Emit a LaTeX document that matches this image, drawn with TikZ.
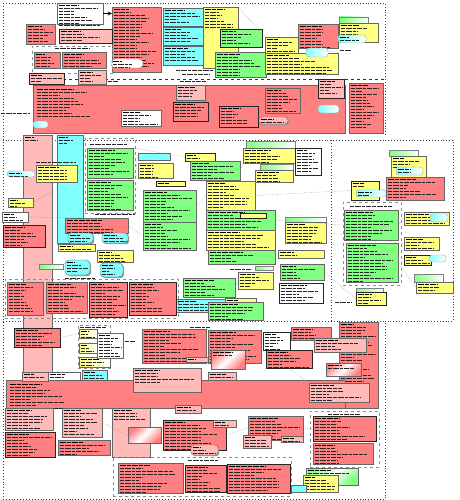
\documentclass[tikz,border=0pt]{standalone}
\usepackage{tikz}
\usetikzlibrary{arrows,shapes,positioning,shadows,fit}
\definecolor{dgred}{RGB}{255,128,128}
\definecolor{dgpink}{RGB}{255,186,186}
\definecolor{dgcyan}{RGB}{128,255,255}
\definecolor{dgyellow}{RGB}{255,255,128}
\definecolor{dggreen}{RGB}{128,255,128}
\newdimen\dgx
\newdimen\dgw
\tikzstyle{box} = [rectangle, draw=black!60, line width=0.4pt, inner sep=0pt, drop shadow={shadow xshift=1.2pt,shadow yshift=-1.2pt,fill=black!40,opacity=1}]
\tikzstyle{redbox} = [box, fill=dgred]
\tikzstyle{pinkbox} = [box, fill=dgpink]
\tikzstyle{cyanbox} = [box, fill=dgcyan]
\tikzstyle{yellowbox} = [box, fill=dgyellow]
\tikzstyle{greenbox} = [box, fill=dggreen]
\tikzstyle{notebox} = [box, fill=white]
\tikzstyle{heavy} = [draw=black!85, line width=0.8pt]
\tikzstyle{pill} = [rectangle, rounded corners=3pt, draw=black!35, inner sep=0pt, left color=dgcyan, right color=white]
\tikzstyle{grbar} = [rectangle, draw=black!50, inner sep=0pt, left color=dggreen, right color=white]
\tikzstyle{stripes} = [box, left color=dgred, right color=dgred, middle color=white, shading angle=45]
\tikzstyle{cluster} = [rectangle, draw=black!45, dashed, inner sep=0pt]
\tikzstyle{blk} = [rectangle, inner sep=0pt]
\tikzstyle{outerline} = [black!75, dotted, line width=0.9pt]
\tikzstyle{conn} = [black!50, densely dotted, line width=0.4pt]
\tikzstyle{arrow} = [thick,->,>=stealth]
\tikzstyle{titleline} = [line width=0.75pt, black, dash pattern=on 6pt off 1pt on 4pt off 1pt]
\tikzstyle{textline} = [line width=0.5pt, black!85, dash pattern=on 4pt off 1pt on 6pt off 1pt on 3pt off 1pt on 5pt off 1pt]
\tikzset{
  txt/.style={path picture={
    \pgfextractx{\dgx}{\pgfpointanchor{path picture bounding box}{west}}
    \pgfextractx{\dgw}{\pgfpointanchor{path picture bounding box}{east}}
    \advance\dgw by -\dgx
    \draw[titleline] ([xshift=1.5pt,yshift=-2.2pt]path picture bounding box.north west) -- ([xshift={1.5pt+(0.3+0.3*rnd)*\dgw},yshift=-2.2pt]path picture bounding box.north west);
    \foreach \k in {2,...,#1}
      \draw[textline] ([xshift=1.5pt,yshift={-\k*3pt+0.6pt}]path picture bounding box.north west) -- ([xshift={1.5pt+(0.3+0.6*rnd)*\dgw},yshift={-\k*3pt+0.6pt}]path picture bounding box.north west);
  }},
  lbl/.style={rectangle, inner sep=0pt, path picture={
    \draw[textline] (path picture bounding box.west) -- (path picture bounding box.east);
  }}
}

\begin{document}
\begin{tikzpicture}[x=1pt, y=-1pt]
    \pgfmathsetseed{5}
    \useasboundingbox (0,0) rectangle (459,500);

    % Outer frames
    \draw[outerline] (3,3) -- (385,3) -- (385,137);
    \draw[outerline] (3,3) -- (3,499) -- (385,499) -- (385,321) -- (453,321) -- (453,140) -- (3,140);
    \draw[outerline] (331,140) -- (331,321);
    \draw[outerline] (3,321) -- (385,321);
    \draw[black!80, dashed, line width=0.9pt] (63,79) -- (385,79);

    % Top row
    \node[notebox, txt=7, fit={(57,3) (103,24)}] (n1) {};
    \node[lbl, fit={(59,24.5) (100,26)}] (n1l) {};
    \node[redbox, txt=20, fit={(112,7) (161,72)}] (r1) {};
    \node[rectangle, rounded corners=4pt, draw=black!40, fill=white, inner sep=0pt, txt=3, fit={(111,59) (143,68)}] (r1e) {};
    \draw[arrow] (n1.east) -- (n1.east -| r1.west);
    \node[redbox, txt=6, fit={(26,24) (55,44)}] (r2) {};
    \node[pinkbox, heavy, txt=4, fit={(59,29) (112,43)}] (p1) {};
    \node[cluster, fit={(32,46) (112,73)}] (c1) {};
    \node[lbl, fit={(55,47.5) (90,49)}] (c1l) {};
    \node[redbox, txt=5, fit={(34,52) (60,68)}] (r3) {};
    \node[redbox, txt=5, fit={(62,52) (106,68)}] (r4) {};
    \node[pinkbox, txt=4, fit={(78,70) (106,84)}] (p2) {};
    \node[pinkbox, heavy, txt=3, fit={(29,73) (64,84)}] (p3) {};
    \node[lbl, fit={(108,80.5) (118,82)}] (p2l) {};
    \node[cyanbox, txt=5, fit={(163,8) (203,26)}] (cy1) {};
    \node[cyanbox, txt=5, fit={(163,27) (203,45)}] (cy2) {};
    \node[cyanbox, txt=5, fit={(163,46) (203,65)}] (cy3) {};
    \node[lbl, fit={(176,69.5) (213,71)}] (cyl1) {};
    \node[lbl, fit={(182,73.5) (210,75)}] (cyl2) {};
    \node[yellowbox, txt=7, fit={(203,7) (238,68)}] (y1) {};
    \node[greenbox, heavy, txt=5, fit={(220,29) (262,47)}] (g1) {};
    \node[greenbox, txt=8, fit={(215,52) (266,77)}] (g2) {};
    \node[yellowbox, txt=5, fit={(265,37) (298,53)}] (y2) {};
    \node[yellowbox, txt=7, fit={(265,53) (338,74)}] (y3) {};
    \node[redbox, txt=8, fit={(298,24) (338,48)}] (r5) {};
    \node[pill, fit={(306,48) (328,57)}] (pl1) {};
    \node[grbar, fit={(339,17) (368,23)}] (gb1) {};
    \node[yellowbox, txt=5, fit={(339,23) (378,42)}] (y4) {};
    \node[pill, txt=2, fit={(338,35) (366,43)}] (pl2) {};
    \node[lbl, fit={(340,49.5) (352,51)}] (y4l) {};

    % Second row
    \node[lbl, fit={(180,80.5) (206,82)}] (row2l) {};
    \node[lbl, fit={(1,112.5) (30,114)}] (row2l2) {};
    \node[redbox, fit={(33,85) (345,133)}] (r6) {};
    \node[blk, txt=10, fit={(35,87) (100,118)}] (r6t) {};
    \node[notebox, txt=5, fit={(121,110) (161,126)}] (n2) {};
    \node[pill, fit={(33,121) (48,128)}] (pl3) {};
    \node[pinkbox, txt=4, fit={(176,85) (205,100)}] (p4) {};
    \node[redbox, heavy, txt=5, fit={(173,102) (208,121)}] (r7) {};
    \node[redbox, heavy, txt=6, fit={(219,106) (258,127)}] (r8) {};
    \node[redbox, txt=8, fit={(265,88) (300,113)}] (r9) {};
    \node[pinkbox, rounded corners=3pt, txt=2, fit={(259,117) (288,124)}] (p5e) {};
    \node[pinkbox, heavy, txt=5, fit={(318,79) (344,98)}] (p5) {};
    \node[pill, fit={(318,105) (339,113)}] (pl4) {};
    \node[redbox, txt=15, fit={(349,83) (383,133)}] (r10) {};

    % Middle row, left part
    \node[pinkbox, txt=2, fit={(23,135) (52,380)}] (pb) {};
    \node[cyanbox, txt=3, fit={(57,135) (83,243)}] (cb) {};
    \node[lbl, fit={(36,161.5) (76,163)}] (y5l) {};
    \node[yellowbox, txt=5, fit={(36,165) (77,182)}] (y5) {};
    \node[pill, txt=2, fit={(7,171) (35,177)}] (pl5) {};
    \node[yellowbox, txt=3, fit={(8,198) (33,207)}] (y6) {};
    \node[notebox, txt=3, fit={(2,212) (28,222)}] (n3) {};
    \node[redbox, heavy, txt=7, fit={(3,225) (45,247)}] (r11) {};
    \node[cluster, fit={(85,138) (135,213)}] (c2) {};
    \node[lbl, fit={(90,143.5) (128,145)}] (c2l) {};
    \node[greenbox, txt=9, fit={(87,148) (133,178)}] (g3) {};
    \node[greenbox, txt=10, fit={(87,180) (133,210)}] (g4) {};
    \node[lbl, fit={(95,213.5) (135,215)}] (c2l2) {};
    \node[redbox, txt=5, fit={(65,218) (128,233)}] (r12) {};
    \node[cyanbox, rounded corners=3pt, txt=3, fit={(68,233) (93,243)}] (cyl3) {};
    \node[cyanbox, rounded corners=3pt, txt=3, fit={(102,233) (128,243)}] (cyl4) {};
    \node[yellowbox, txt=3, fit={(58,244) (95,251)}] (y7) {};
    \node[yellowbox, txt=4, fit={(97,250) (133,262)}] (y7b) {};
    \node[grbar, fit={(39,264) (63,269)}] (gb2) {};
    \node[cyanbox, rounded corners=4pt, txt=4, fit={(65,260) (90,275)}] (cyl5) {};
    \node[cyanbox, rounded corners=4pt, txt=4, fit={(100,263) (123,277)}] (cyl6) {};

    % Middle row, centre part
    \node[cyanbox, fit={(138,153) (170,160)}] (cy4) {};
    \node[yellowbox, txt=5, fit={(138,163) (173,178)}] (y8) {};
    \node[yellowbox, heavy, txt=2, fit={(185,153) (215,161)}] (y9) {};
    \node[greenbox, txt=6, fit={(190,161) (240,180)}] (g6) {};
    \node[grbar, fit={(246,141) (295,148)}] (gb3) {};
    \node[yellowbox, txt=5, fit={(243,148) (295,163)}] (y10) {};
    \node[notebox, heavy, txt=8, fit={(295,148) (321,175)}] (n4) {};
    \node[grbar, fit={(260,164) (293,170)}] (gb4) {};
    \node[yellowbox, txt=4, fit={(255,170) (293,182)}] (y11) {};
    \node[yellowbox, heavy, txt=2, fit={(156,181) (185,186)}] (y12) {};
    \node[greenbox, txt=10, fit={(143,190) (196,222)}] (g7) {};
    \node[greenbox, txt=9, fit={(143,222) (196,250)}] (g8) {};
    \node[yellowbox, txt=9, fit={(206,181) (255,210)}] (y13) {};
    \node[greenbox, txt=6, fit={(206,210) (275,230)}] (g9) {};
    \node[yellowbox, heavy, fit={(240,213) (266,218)}] (y13b) {};
    \node[yellowbox, txt=6, fit={(206,230) (275,250)}] (y14) {};
    \node[grbar, fit={(285,217) (326,222)}] (gb5) {};
    \node[yellowbox, txt=7, fit={(285,222) (326,243)}] (y15) {};
    \node[greenbox, txt=4, fit={(208,250) (275,264)}] (g10) {};
    \node[yellowbox, txt=3, fit={(278,250) (324,258)}] (y16) {};
    \node[greenbox, txt=5, fit={(280,264) (324,280)}] (g11) {};
    \node[notebox, heavy, txt=6, fit={(279,283) (323,303)}] (n5) {};
    \node[grbar, fit={(255,266) (273,270)}] (gb6) {};
    \node[yellowbox, txt=5, fit={(238,272) (273,289)}] (y17) {};
    \node[greenbox, txt=6, fit={(183,278) (235,297)}] (g12) {};
    \node[cyanbox, txt=4, fit={(176,299) (225,312)}] (cy5) {};
    \node[yellowbox, txt=3, fit={(225,298) (256,309)}] (y18) {};
    \node[greenbox, txt=6, fit={(208,302) (263,320)}] (g13) {};
    \node[lbl, fit={(230,268.5) (252,270)}] (g10l) {};

    % Middle row, group of four
    \node[cluster, fit={(5,279) (178,318)}] (c3) {};
    \node[lbl, fit={(65,277.5) (95,279)}] (c3l) {};
    \node[redbox, txt=10, fit={(7,282) (43,315)}] (r13) {};
    \node[redbox, txt=10, fit={(46,282) (87,313)}] (r14) {};
    \node[redbox, heavy, txt=11, fit={(89,282) (127,317)}] (r15) {};
    \node[redbox, heavy, txt=10, fit={(129,282) (176,315)}] (r16) {};

    % Middle row, right part
    \node[grbar, fit={(389,150) (418,156)}] (gb7) {};
    \node[yellowbox, txt=4, fit={(391,156) (426,177)}] (y19) {};
    \node[pill, txt=2, fit={(396,167) (423,175)}] (pl6) {};
    \node[redbox, txt=7, fit={(386,177) (444,200)}] (r17) {};
    \node[yellowbox, heavy, txt=2, fit={(351,181) (379,200)}] (y20) {};
    \node[pill, txt=2, fit={(356,190) (386,197)}] (pl7) {};
    \node[cluster, fit={(343,202) (401,285)}] (c4) {};
    \node[lbl, fit={(350,205.5) (392,207)}] (c4l) {};
    \node[greenbox, txt=10, fit={(344,210) (398,240)}] (g14) {};
    \node[greenbox, txt=13, fit={(346,243) (398,282)}] (g15) {};
    \node[yellowbox, txt=4, fit={(404,212) (449,225)}] (y21) {};
    \node[pill, fit={(430,214) (448,222)}] (pl8) {};
    \node[yellowbox, txt=4, fit={(404,237) (439,250)}] (y22) {};
    \node[yellowbox, heavy, txt=3, fit={(404,255) (431,265)}] (y23) {};
    \node[pill, fit={(429,255) (446,262)}] (pl9) {};
    \node[grbar, fit={(414,274) (443,282)}] (gb8) {};
    \node[yellowbox, txt=3, fit={(416,282) (453,293)}] (y24) {};
    \node[grbar, fit={(356,288) (383,292)}] (gb9) {};
    \node[yellowbox, heavy, txt=4, fit={(356,292) (386,305)}] (y25) {};
    \node[lbl, fit={(335,301.5) (352,303)}] (y25l) {};

    % Bottom row
    \node[redbox, heavy, txt=6, fit={(14,328) (60,347)}] (r18) {};
    \node[cluster, fit={(78,325) (110,368)}] (c5) {};
    \node[lbl, fit={(80,326.5) (106,328)}] (c5l) {};
    \node[yellowbox, left color=dgyellow, right color=white, txt=3, fit={(79,329) (97,338)}] (y26) {};
    \node[yellowbox, left color=dgyellow, right color=white, txt=3, fit={(79,343) (97,353)}] (y27) {};
    \node[yellowbox, left color=dgyellow, right color=white, txt=3, fit={(79,357) (110,367)}] (y28) {};
    \node[notebox, txt=8, fit={(97,333) (123,358)}] (n6) {};
    \node[lbl, fit={(125,340.5) (135,342)}] (n6l) {};
    \node[lbl, fit={(190,326.5) (210,328)}] (r19l) {};
    \node[redbox, txt=11, fit={(142,329) (206,363)}] (r19) {};
    \node[redbox, txt=11, fit={(208,330) (261,363)}] (r20) {};
    \node[stripes, txt=2, fit={(211,350) (245,369)}] (s1) {};
    \node[pinkbox, txt=2, fit={(186,357) (208,362)}] (p6) {};
    \node[notebox, heavy, txt=6, fit={(263,332) (290,350)}] (n7) {};
    \node[redbox, heavy, txt=6, fit={(266,350) (312,368)}] (r21) {};
    \node[redbox, txt=4, fit={(291,327) (331,340)}] (r22) {};
    \node[redbox, txt=27, fit={(339,322) (378,408)}] (r23) {};
    \node[pinkbox, txt=5, fit={(314,338) (366,352)}] (p7) {};
    \node[stripes, txt=2, fit={(326,363) (361,376)}] (s2) {};
    \node[cyanbox, txt=3, fit={(82,370) (107,382)}] (cy6) {};
    \node[redbox, fit={(6,380) (345,408)}] (r24) {};
    \node[blk, txt=9, fit={(8,382) (75,408)}] (r24t) {};
    \node[pinkbox, txt=5, fit={(133,368) (201,392)}] (p8) {};
    \node[pinkbox, txt=2, fit={(208,372) (236,380)}] (p9) {};
    \node[notebox, txt=2, fit={(48,372) (80,380)}] (n8) {};
    \node[pinkbox, txt=2, fit={(22,372) (48,381)}] (p10) {};
    \node[pinkbox, txt=6, fit={(309,383) (369,402)}] (p11) {};
    \node[pinkbox, txt=7, fit={(5,408) (53,430)}] (p12) {};
    \node[pinkbox, txt=9, fit={(62,408) (102,437)}] (p13) {};
    \node[pinkbox, txt=4, fit={(112,408) (150,457)}] (p14) {};
    \node[stripes, fit={(128,427) (161,443)}] (s3) {};
    \node[redbox, heavy, txt=8, fit={(5,432) (55,457)}] (r25) {};
    \node[redbox, txt=5, fit={(58,440) (110,455)}] (r26) {};
    \node[pinkbox, txt=2, fit={(175,405) (201,413)}] (p15) {};
    \node[redbox, heavy, txt=10, fit={(163,420) (226,450)}] (r28) {};
    \node[pinkbox, txt=2, fit={(213,420) (236,427)}] (p16) {};
    \node[pinkbox, rounded corners=3pt, txt=3, fit={(191,445) (218,455)}] (p17) {};
    \node[redbox, txt=8, fit={(248,416) (303,440)}] (r29) {};
    \node[pinkbox, txt=4, fit={(243,435) (271,448)}] (p18) {};
    \node[pinkbox, txt=2, fit={(281,436) (303,442)}] (p19) {};
    \node[cluster, fit={(113,457) (291,496)}] (c6) {};
    \node[lbl, fit={(188,459.5) (218,461)}] (c6l) {};
    \node[redbox, txt=10, fit={(118,463) (183,493)}] (r27) {};
    \node[redbox, heavy, txt=9, fit={(185,465) (226,492)}] (r30) {};
    \node[redbox, heavy, txt=9, fit={(227,464) (290,493)}] (r31) {};
    \node[cluster, fit={(310,411) (379,467)}] (c7) {};
    \node[lbl, fit={(328,413.5) (360,415)}] (c7l) {};
    \node[redbox, heavy, txt=8, fit={(313,416) (376,441)}] (r33) {};
    \node[redbox, txt=7, fit={(313,443) (373,464)}] (r34) {};
    \node[box, left color=dggreen, right color=dggreen, middle color=white, shading angle=45, txt=2, fit={(306,468) (358,485)}] (s4) {};
    \node[yellowbox, txt=5, fit={(303,475) (338,492)}] (y29) {};
    \node[cyanbox, fit={(291,485) (306,492)}] (cy7) {};

    % Connectors
    \draw[conn] (y1.north east) -- (y2.north west);
    \draw[conn] (g2.east) -- (y3.west);
    \draw[conn] (r5.south) -- (y3.north east);
    \draw[conn] (p4.east) -- (r9.west);
    \draw[conn] (r7.east) -- (r8.west);
    \draw[conn] (r8.east) -- (p5e.west);
    \draw[conn] (y5.east) -- (g3.west);
    \draw[conn] (n3.east) -- (r12.north west);
    \draw[conn] (y6.east) -- (cb.west);
    \draw[conn] (c2.east) -- (cy4.west);
    \draw[conn] (g3.north east) -- (y9.west);
    \draw[conn] (g6.east) -- (y10.south west);
    \draw[conn] (y12.south) -- (g7.north);
    \draw[conn] (g7.east) -- (y13.west);
    \draw[conn] (y13.east) -- (y20.west);
    \draw[conn] (g9.east) -- (g14.west);
    \draw[conn] (y15.east) -- (y22.west);
    \draw[conn] (g11.east) -- (y25.west);
    \draw[conn] (y20.east) -- (r17.west);
    \draw[conn] (g14.east) -- (y21.west);
    \draw[conn] (g15.east) -- (y24.west);
    \draw[conn] (y19.south) -- (r17.north);
    \draw[conn] (r12.east) -- (g8.west);
    \draw[conn] (g12.east) -- (y17.west);
    \draw[conn] (r18.east) -- (y26.west);
    \draw[conn] (r20.east) -- (n7.west);
    \draw[conn] (r28.east) -- (r29.west);
    \draw[conn] (p15.south) -- (r28.north);
    \draw[conn] (r29.east) -- (r33.west);
    \draw[conn] (p13.east) -- (s3.west);
    \draw[conn] (r21.south) -- (p11.north west);
\end{tikzpicture}
\end{document}
